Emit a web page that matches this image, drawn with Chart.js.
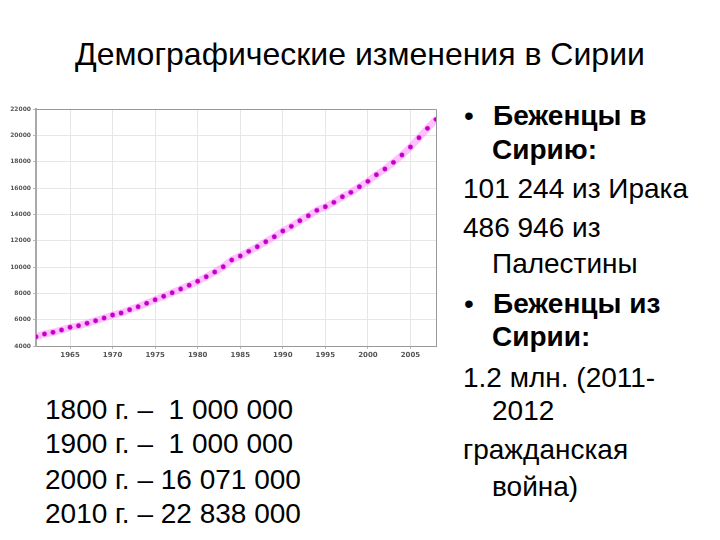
<!DOCTYPE html>
<html>
<head>
<meta charset="utf-8">
<script src="https://cdn.jsdelivr.net/npm/chart.js@4/dist/chart.umd.min.js"></script>
<style>
  html, body { margin:0; padding:0; background:#fff; }
  body { width:720px; height:540px; position:relative; overflow:hidden; font-family:"Liberation Sans", Arial, sans-serif; color:#000; }
  #title { position:absolute; left:0; width:720px; top:38px; text-align:center; font-size:32px; line-height:1; }
  #chartBox { position:absolute; left:0; top:100px; width:445px; height:264px; }
  .t { position:absolute; font-size:28px; white-space:nowrap; line-height:1; }
  .b { font-weight:bold; }
</style>
</head>
<body>
<div id="title">Демографические изменения в Сирии</div>
<div id="chartBox"><canvas id="c" width="445" height="264"></canvas></div>

<div class="t" style="left:45px; top:396px;">1800 г. – &nbsp;1 000 000</div>
<div class="t" style="left:45px; top:430px;">1900 г. – &nbsp;1 000 000</div>
<div class="t" style="left:45px; top:466px;">2000 г. – 16 071 000</div>
<div class="t" style="left:45px; top:500px;">2010 г. – 22 838 000</div>

<div class="t" style="left:464px; top:102px;">•</div>
<div class="t b" style="left:493px; top:102px;">Беженцы в</div>
<div class="t b" style="left:492px; top:136px;">Сирию:</div>
<div class="t" style="left:463px; top:175px;">101 244 из Ирака</div>
<div class="t" style="left:463px; top:214px;">486 946 из</div>
<div class="t" style="left:492px; top:250px;">Палестины</div>
<div class="t" style="left:464px; top:290px;">•</div>
<div class="t b" style="left:493px; top:290px;">Беженцы из</div>
<div class="t b" style="left:492px; top:323px;">Сирии:</div>
<div class="t" style="left:463px; top:364px;">1.2 млн. (2011-</div>
<div class="t" style="left:492px; top:397px;">2012</div>
<div class="t" style="left:463px; top:436px;">гражданская</div>
<div class="t" style="left:492px; top:473px;">война)</div>

<script>
const years = [1961,1962,1963,1964,1965,1966,1967,1968,1969,1970,
               1971,1972,1973,1974,1975,1976,1977,1978,1979,1980,
               1981,1982,1983,1984,1985,1986,1987,1988,1989,1990,
               1991,1992,1993,1994,1995,1996,1997,1998,1999,2000,
               2001,2002,2003,2004,2005,2006,2007,2008];
const population = [4706,4911,5040,5215,5420,5541,5724,5921,6126,6354,
                    6506,6756,6984,7242,7516,7774,8047,8328,8609,8913,
                    9262,9619,10021,10530,10834,11190,11540,11920,12300,12732,
                    13089,13514,13894,14304,14577,14911,15336,15671,16096,16506,
                    17007,17440,17948,18503,19110,19816,20530,21213];
const xTicks = [1965,1970,1975,1980,1985,1990,1995,2000,2005];
const yTicks = [4000,6000,8000,10000,12000,14000,16000,18000,20000,22000];

const points = years.map((y, i) => ({x: y, y: population[i]}));

new Chart(document.getElementById('c'), {
  type: 'line',
  data: {
    datasets: [
      {
        data: points,
        borderColor: 'rgba(255,120,255,0.45)',
        borderWidth: 7,
        pointRadius: 2.2,
        pointBackgroundColor: '#c000c8',
        pointBorderColor: '#d000d0',
        pointBorderWidth: 0.5,
        tension: 0
      }
    ]
  },
  options: {
    responsive: false,
    animation: false,
    layout: { padding: { top: 9, right: 9, left: 0, bottom: 0 } },
    plugins: { legend: { display: false }, tooltip: { enabled: false } },
    scales: {
      x: {
        type: 'linear',
        min: 1961, max: 2008,
        afterBuildTicks: s => { s.ticks = xTicks.map(v => ({value: v})); },
        afterFit: s => { s.height = 18; },
        grid: { color: '#e6e6e6', lineWidth: 1, tickLength: 3, tickColor: '#bbb' },
        border: { color: '#999', width: 1 },
        ticks: { color: '#555', font: { size: 7, weight: 'bold', family: 'DejaVu Sans' }, padding: 2, maxRotation: 0, autoSkip: false,
                 callback: v => String(v) }
      },
      y: {
        min: 4000, max: 22000,
        afterBuildTicks: s => { s.ticks = yTicks.map(v => ({value: v})); },
        afterFit: s => { s.width = 36; },
        grid: { color: '#e6e6e6', lineWidth: 1, tickLength: 3, tickColor: '#bbb' },
        border: { color: '#aaa', width: 2 },
        ticks: { color: '#555', font: { size: 6, weight: 'bold', family: 'DejaVu Sans' }, padding: 2, autoSkip: false,
                 callback: v => String(v) }
      }
    }
  },
  plugins: [{
    id: 'frame',
    afterDraw(chart) {
      const {ctx, chartArea: a} = chart;
      ctx.save();
      ctx.strokeStyle = '#999';
      ctx.lineWidth = 1;
      ctx.beginPath();
      ctx.moveTo(a.left, a.top + 0.5);
      ctx.lineTo(a.right + 0.5, a.top + 0.5);
      ctx.lineTo(a.right + 0.5, a.bottom);
      ctx.stroke();
      ctx.restore();
    }
  }]
});
</script>
</body>
</html>
